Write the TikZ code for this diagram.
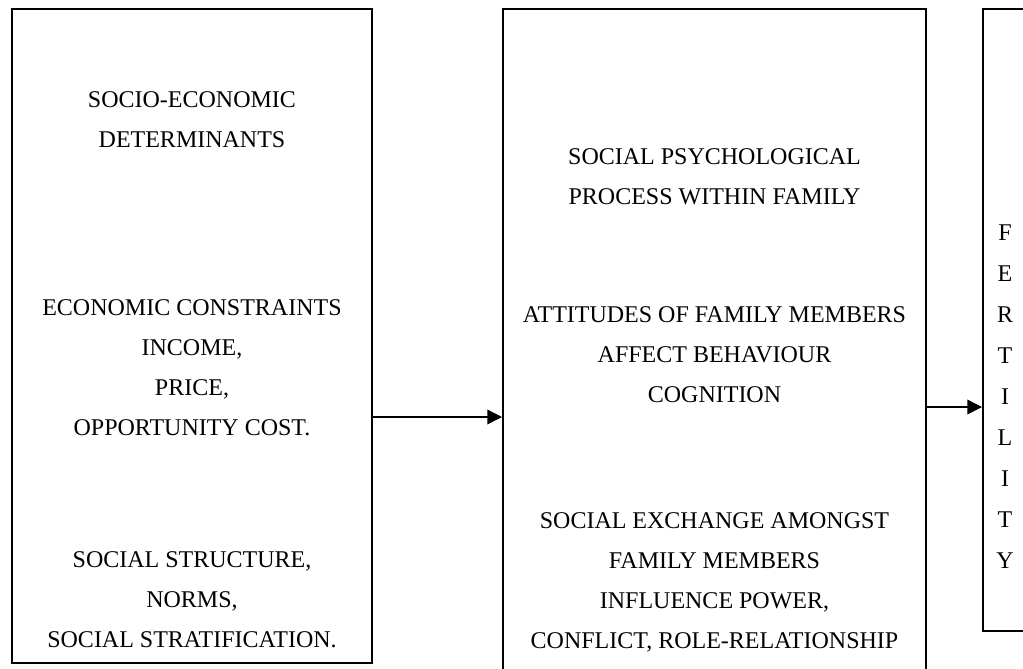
\documentclass[tikz,border=0pt]{standalone}
\usepackage{fontspec}
\setmainfont{Liberation Serif}
\usetikzlibrary{arrows.meta}

\tikzset{
    frame/.style={draw=black, line width=1.5pt, inner sep=0pt},
    boxtext/.style={align=center, font=\fontsize{18}{30}\selectfont},
    flow/.style={black, line width=1.1pt, -{Triangle[length=11pt,width=11pt]}}
}

\begin{document}
\begin{tikzpicture}[x=0.75pt,y=-0.75pt]
                    \useasboundingbox (0,0) rectangle (1023,668);
                    \node[frame, minimum width=270pt, minimum height=490.5pt] (socio) at (192,336) {};
                    \node[frame, minimum width=317.25pt, minimum height=518.25pt] (psych) at (714.5,354.5) {};
                    \node[frame, minimum width=60pt, minimum height=466.5pt] (fert) at (1023,320) {};

                    \node[boxtext] (determinants) at (192,120) {SOCIO-ECONOMIC\\DETERMINANTS};
                    \node[boxtext] (constraints) at (192,367.5) {ECONOMIC CONSTRAINTS\\INCOME,\\PRICE,\\OPPORTUNITY COST.};
                    \node[boxtext] (structure) at (192,600) {SOCIAL STRUCTURE,\\NORMS,\\SOCIAL STRATIFICATION.};

                    \node[boxtext] (process) at (714.5,177) {SOCIAL PSYCHOLOGICAL\\PROCESS WITHIN FAMILY};
                    \node[boxtext] (attitudes) at (714.5,355) {ATTITUDES OF FAMILY MEMBERS\\AFFECT BEHAVIOUR\\COGNITION};
                    \node[boxtext] (exchange) at (714.5,582.5) {SOCIAL EXCHANGE AMONGST\\FAMILY MEMBERS\\INFLUENCE POWER,\\CONFLICT, ROLE-RELATIONSHIP};

                    \node[boxtext, font=\fontsize{18}{30.75}\selectfont] (fertility) at (1005,396.5) {F\\E\\R\\T\\I\\L\\I\\T\\Y};

                    \coordinate (ya) at (0,417);
                    \coordinate (yb) at (0,407);
                    \draw[flow] (socio.east |- ya) -- (psych.west |- ya);
                    \draw[flow] (psych.east |- yb) -- (fert.west |- yb);
\end{tikzpicture}
\end{document}
